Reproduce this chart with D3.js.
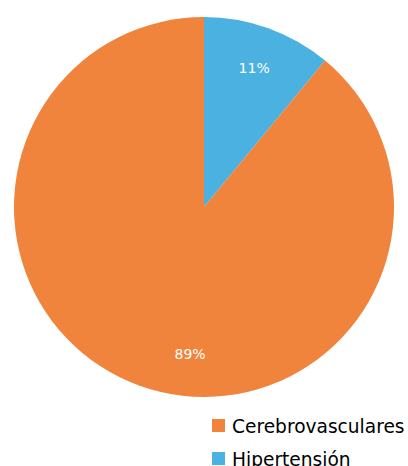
<!DOCTYPE html>
<html>
<head>
<meta charset="utf-8">
<script src="https://cdn.jsdelivr.net/npm/d3@7"></script>
<style>
  body { margin: 0; background: #fff; }
  svg { display: block; }
  text { font-family: "DejaVu Sans", Verdana, sans-serif; }
</style>
</head>
<body>
<div class="vizHolder"></div>
<script>
var width = 408,
    height = 466,
    radius = 190;

// data
var categories = ['Hipertensión', 'Cerebrovasculares'];
var values = [11, 89];
var labels = ['11%', '89%'];
var legendOrder = ['Cerebrovasculares', 'Hipertensión'];
var colors = ['#4BB1E0', '#F0843C'];

var svgContainer = d3.select('.vizHolder')
                     .append('svg')
                     .attr('width', width)
                     .attr('height', height);

var color = d3.scaleOrdinal()
              .domain(categories)
              .range(colors);

var pie = d3.pie()
            .sort(null)
            .value(function(d){ return d; });

var arcs = pie(values);

var arc = d3.arc()
            .innerRadius(0)
            .outerRadius(radius);

var pieGroup = svgContainer.append('g')
                           .attr('transform', 'translate(204, 207)');

pieGroup.selectAll('path')
        .data(arcs)
        .enter()
        .append('path')
        .attr('d', arc)
        .attr('fill', function(d, i){ return color(categories[i]); });

// labels: small slice at its middle, big slice just past the bottom
var labelR = 148;
function labelAngle(d){
    return d.value > 50 ? Math.PI * 1.03 : (d.startAngle + d.endAngle) / 2;
}
pieGroup.selectAll('text.lbl')
        .data(arcs)
        .enter()
        .append('text')
        .attr('class', 'lbl')
        .attr('x', function(d){ return labelR * Math.sin(labelAngle(d)); })
        .attr('y', function(d){ return -labelR * Math.cos(labelAngle(d)); })
        .attr('dy', '0.35em')
        .attr('text-anchor', 'middle')
        .attr('fill', '#fff')
        .style('font-size', '14px')
        .text(function(d, i){ return labels[i]; });

//legend
var legend = svgContainer.selectAll('g.legend')
                         .data(legendOrder)
                         .enter()
                         .append('g')
                         .attr('class', 'legend')
                         .attr('transform', function(d, i){ return 'translate(212,' + (419 + i * 33) + ')'; });

legend.append('rect')
      .attr('width', 13)
      .attr('height', 13)
      .attr('fill', function(d){ return color(d); });

legend.append('text')
      .attr('x', 20)
      .attr('y', 13.5)
      .attr('fill', '#000')
      .style('font-size', '18.6px')
      .text(function(d){ return d; });
</script>
</body>
</html>
